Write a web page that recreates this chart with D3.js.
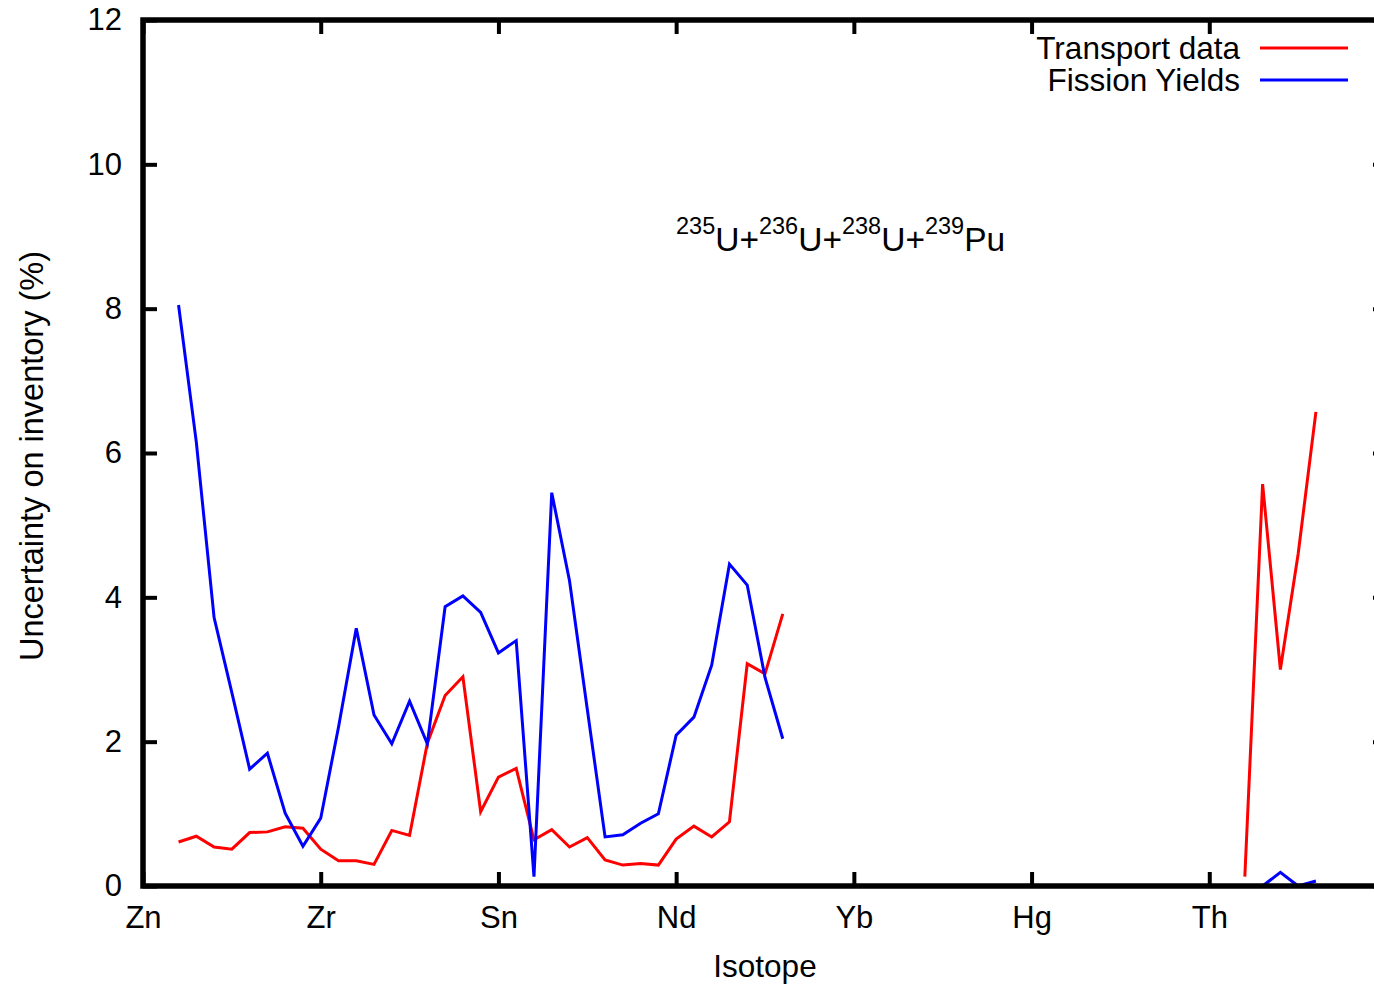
<!DOCTYPE html>
<html lang="en">
<head>
<meta charset="UTF-8">
<title>Uncertainty on inventory</title>
<script src="https://d3js.org/d3.v7.min.js"></script>
<style>
    body {
        margin: 0;
        background-color: #fff;
    }

    svg text {
        font-family: "Liberation Sans", Arial, Helvetica, sans-serif;
        fill: #000;
    }

    .axis path.domain {
        display: none;
    }

    .axis line {
        stroke: #000;
        stroke-width: 4px;
    }

    .axis text {
        font-size: 31px;
    }
</style>
</head>
<body>
<svg id="chart" width="1374" height="986"></svg>
<script>
    // tick labels on the isotope axis and where they sit (isotope index)
    const isotopeLabels = ["Zn", "Zr", "Sn", "Nd", "Yb", "Hg", "Th"];
    const isotopeTicks = [0, 10, 20, 30, 40, 50, 60];
    const yTicks = [0, 2, 4, 6, 8, 10, 12];

    // transport data
    const transportIndex = [2, 3, 4, 5, 6, 7, 8, 9, 10, 11, 12, 13, 14, 15, 16, 17, 18, 19, 20,
        21, 22, 23, 24, 25, 26, 27, 28, 29, 30, 31, 32, 33, 34, 35, 36,
        62, 63, 64, 65, 66];
    const transportValues = [0.61, 0.69, 0.54, 0.51, 0.74, 0.75, 0.82, 0.80, 0.51, 0.35, 0.35, 0.30, 0.77, 0.70, 1.98, 2.64, 2.90, 1.03, 1.51,
        1.63, 0.64, 0.78, 0.54, 0.67, 0.36, 0.29, 0.31, 0.29, 0.65, 0.83, 0.68, 0.89, 3.08, 2.94, 3.77,
        0.13, 5.57, 3.00, 4.60, 6.57];

    // fission yields
    const fissionIndex = [2, 3, 4, 5, 6, 7, 8, 9, 10, 11, 12, 13, 14, 15, 16, 17, 18, 19, 20,
        21, 22, 23, 24, 25, 26, 27, 28, 29, 30, 31, 32, 33, 34, 35, 36,
        63, 64, 65, 66];
    const fissionValues = [8.05, 6.15, 3.72, 2.68, 1.62, 1.84, 1.01, 0.55, 0.94, 2.20, 3.57, 2.37, 1.97, 2.56, 1.97, 3.87, 4.02, 3.79, 3.23,
        3.40, 0.13, 5.45, 4.23, 2.45, 0.68, 0.71, 0.87, 1.00, 2.09, 2.34, 3.06, 4.46, 4.17, 2.89, 2.04,
        0.00, 0.19, 0.00, 0.07];

    const svg = d3.select("#chart");

    const x = d3.scaleLinear().domain([0, 70]).range([143, 1387]);
    const y = d3.scaleLinear().domain([0, 12]).range([886, 20]);

    // ticks on all four sides, pointing inward like gnuplot
    svg.append("g")
        .attr("class", "axis")
        .attr("transform", `translate(${x(0)},0)`)
        .call(d3.axisLeft(y).tickValues(yTicks).tickSize(-14).tickSizeOuter(0).tickPadding(21));

    svg.append("g")
        .attr("class", "axis")
        .attr("transform", `translate(${x(70)},0)`)
        .call(d3.axisRight(y).tickValues(yTicks).tickSize(-14).tickSizeOuter(0).tickFormat(""));

    svg.append("g")
        .attr("class", "axis")
        .attr("transform", `translate(0,${y(0)})`)
        .call(d3.axisBottom(x).tickValues(isotopeTicks).tickSize(-14).tickSizeOuter(0).tickPadding(20)
            .tickFormat((d, i) => isotopeLabels[i]));

    svg.append("g")
        .attr("class", "axis")
        .attr("transform", `translate(0,${y(12)})`)
        .call(d3.axisTop(x).tickValues(isotopeTicks).tickSize(-14).tickSizeOuter(0).tickFormat(""));

    // split a series where the isotope index jumps
    function segments(idx, vals) {
        let out = [], cur = [];
        idx.forEach((d, i) => {
            if (i > 0 && d - idx[i - 1] > 1) {
                out.push(cur);
                cur = [];
            }
            cur.push([d, vals[i]]);
        });
        out.push(cur);
        return out;
    }

    const line = d3.line().x(d => x(d[0])).y(d => y(d[1]));

    const series = [
        { idx: transportIndex, vals: transportValues, color: "#ff0000" },
        { idx: fissionIndex, vals: fissionValues, color: "#0000ff" }
    ];

    series.forEach(s => {
        svg.append("g")
            .selectAll("path")
            .data(segments(s.idx, s.vals))
            .enter()
            .append("path")
            .attr("d", line)
            .attr("fill", "none")
            .attr("stroke", s.color)
            .attr("stroke-width", 3)
            .attr("stroke-linejoin", "miter");
    });

    // plot border
    svg.append("rect")
        .attr("x", x(0))
        .attr("y", y(12))
        .attr("width", x(70) - x(0))
        .attr("height", y(0) - y(12))
        .attr("fill", "none")
        .attr("stroke", "#000")
        .attr("stroke-width", 5.5);

    // axis titles
    svg.append("text")
        .attr("x", (x(0) + x(70)) / 2)
        .attr("y", 977)
        .attr("text-anchor", "middle")
        .style("font-size", "31.5px")
        .text("Isotope");

    svg.append("text")
        .attr("transform", `translate(43,${(y(0) + y(12)) / 2 + 3}) rotate(-90)`)
        .attr("text-anchor", "middle")
        .style("font-size", "32.5px")
        .text("Uncertainty on inventory (%)");

    // title with mass numbers as superscripts
    const title = svg.append("text")
        .attr("x", 676)
        .attr("y", 251)
        .style("font-size", "33.5px");
    const parts = [["235", "U+"], ["236", "U+"], ["238", "U+"], ["239", "Pu"]];
    parts.forEach(p => {
        title.append("tspan").attr("dy", -17).style("font-size", "23.5px").text(p[0]);
        title.append("tspan").attr("dy", 17).text(p[1]);
    });

    // legend
    const legend = svg.append("g");
    [["Transport data", "#ff0000"], ["Fission Yields", "#0000ff"]].forEach((d, i) => {
        const ly = 48 + i * 32;
        legend.append("text")
            .attr("x", 1240)
            .attr("y", ly + 11)
            .attr("text-anchor", "end")
            .style("font-size", "31.5px")
            .text(d[0]);
        legend.append("line")
            .attr("x1", 1260)
            .attr("x2", 1348)
            .attr("y1", ly)
            .attr("y2", ly)
            .attr("stroke", d[1])
            .attr("stroke-width", 3);
    });
</script>
</body>
</html>
